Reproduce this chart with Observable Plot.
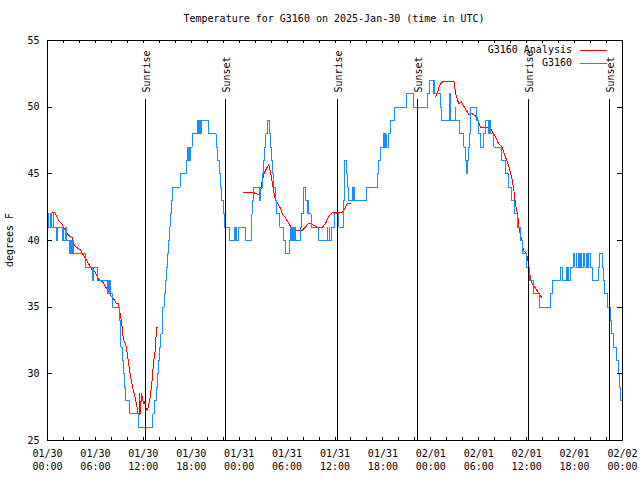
<!DOCTYPE html>
<html><head><meta charset="utf-8">
<script src="https://cdn.jsdelivr.net/npm/d3@7"></script>
<script src="https://cdn.jsdelivr.net/npm/@observablehq/plot@0.6"></script>
<style>body{margin:0;background:#fff} svg{display:block}</style>
</head><body><div id="chart"></div>
<script>
const startMs = Date.UTC(2025, 0, 30);
const titleText = "Temperature for G3160 on 2025-Jan-30 (time in UTC)";
const yLabelText = "degrees F";
const legendLabels = ["G3160 Analysis", "G3160"];
const seriesColors = ["#ff0000", "#1a8cff"];
const yTicks = [25, 30, 35, 40, 45, 50, 55];
const sunriseHours = [12.31, 36.35, 60.27];
const sunsetHours = [22.33, 46.37, 70.41];

// G3160 observations: [hours since 01/30 00:00 UTC, deg F]
const g3160 = [
[0,42],[0.17,41],[0.38,42],[0.55,41],[0.71,42],[0.8,41],[1.1,40],[1.2,41],[1.85,40],[1.95,41],[2.05,40],[2.2,41],[2.35,40],[2.8,39],[2.9,40],[3.0,39],[3.1,40],[3.2,39],[4.76,38],[5.6,37],[5.7,38],[6.2,37],[7.5,36],[7.6,37],[7.75,36],[7.85,37],[7.95,36],[8.1,35],[9.0,34],[9.1,33],[9.2,32],[9.35,31],[9.5,30],[9.65,29],[9.75,28],[10.3,27],[11.4,26],[13.2,27],[13.4,28],[13.6,29],[13.75,30],[13.9,31],[14.05,32],[14.2,33],[14.35,34],[14.45,35],[14.6,36],[14.75,37],[14.9,38],[15.0,39],[15.1,40],[15.25,41],[15.35,42],[15.5,43],[15.65,44],[16.6,45],[17.4,46],[17.5,47],[17.6,46],[17.7,47],[17.8,46],[17.9,47],[18.1,48],[18.75,49],[18.85,48],[19.0,49],[19.1,48],[19.3,49],[20.2,48],[21.1,47],[21.3,46],[21.5,45],[21.7,44],[21.85,43],[22.0,42],[22.2,41],[22.8,40],[23.4,41],[23.5,40],[23.6,41],[23.7,40],[23.9,41],[24.8,40],[25.5,41],[25.6,42],[25.7,43],[25.8,44],[26.6,43],[26.7,44],[26.9,45],[27.0,46],[27.15,47],[27.35,48],[27.5,49],[27.85,48],[27.95,47],[28.05,46],[28.2,45],[28.35,44],[28.5,43],[28.7,42],[29.1,41],[29.55,40],[29.75,39],[30.35,40],[30.45,41],[30.55,40],[30.65,41],[30.8,40],[30.9,41],[31.0,40],[31.65,41],[31.8,42],[32.0,43],[32.1,44],[32.3,43],[32.5,42],[32.55,43],[32.7,42],[33.0,41],[33.9,40],[35.0,41],[35.1,40],[35.25,41],[35.35,40],[35.6,41],[35.9,42],[36.5,41],[37.1,43],[37.25,46],[37.45,45],[37.6,44],[37.7,43],[38.2,44],[38.3,43],[38.4,44],[38.5,43],[40.0,44],[41.3,45],[41.5,46],[41.7,47],[42.1,48],[42.2,47],[42.3,48],[42.4,47],[42.7,48],[43.0,49],[43.4,50],[45.0,51],[45.8,50],[47.6,51],[47.8,52],[48.3,51],[48.4,52],[48.5,51],[49.2,50],[49.35,49],[50.3,51],[50.5,49],[51.05,50],[51.15,49],[51.6,48],[52.15,47],[52.3,46],[52.5,45],[52.65,46],[52.75,47],[52.85,48],[52.95,50],[53.7,49],[53.95,48],[54.2,47],[54.6,48],[54.9,49],[55.2,48],[55.35,49],[55.5,48],[55.9,47],[56.8,46],[57.3,45],[57.7,44],[58.1,43],[58.5,42],[58.8,41],[59.2,40],[59.5,39],[60.0,38],[60.3,37],[60.9,36],[61.6,35],[63.0,36],[63.2,37],[64.2,38],[64.5,37],[65.0,38],[65.1,37],[65.2,38],[65.3,37],[65.5,38],[65.9,39],[66.05,38],[66.2,39],[66.3,38],[66.45,39],[66.6,38],[66.75,39],[66.9,38],[67.1,39],[67.3,38],[67.5,39],[67.6,38],[67.75,39],[68.0,38],[68.3,37],[69.0,38],[69.1,39],[69.5,38],[69.6,37],[69.8,36],[70.1,35],[70.5,34],[70.65,33],[70.9,32],[71.3,31],[71.45,30],[71.6,29],[71.8,28],[72,28]
];

// G3160 analysis, three segments
const analysis1 = [
[0.65,42.1],[0.9,42.1],[1.2,41.75],[1.5,41.4],[1.8,41.25],[2.2,40.8],[2.5,40.5],[2.8,40.3],[3.1,40.2],[3.3,39.7],[3.6,39.5],[4.1,39.3],[4.5,38.9],[4.9,38.5],[5.3,38.1],[5.6,37.8],[6.0,37.6],[6.4,37.1],[6.9,36.9],[7.3,36.5],[7.6,36.2],[7.9,35.9],[8.3,35.6],[8.6,35.3],[8.9,35.25],[9.1,34.5],[9.3,33.75],[9.5,32.6],[9.8,32.2],[10.0,31.5],[10.15,30.8],[10.35,30.0],[10.55,29.3],[10.75,28.75],[10.95,28.25],[11.15,27.75],[11.35,27.0],[11.45,26.75],[11.55,28.5],[11.65,27.0],[11.75,28.5],[11.9,28.2],[12.0,27.8],[12.15,27.9],[12.3,27.5],[12.5,27.25],[12.7,27.75],[12.85,28.25],[13.1,29.5],[13.3,31.0],[13.5,31.75],[13.65,33.5],[13.8,33.5]
];
const analysis2 = [
[24.5,43.6],[25.8,43.6],[26.5,43.4],[26.7,43.4],[26.75,44.0],[26.9,44.5],[27.1,45.0],[27.5,45.5],[27.7,45.7],[27.9,45.2],[28.1,44.5],[28.3,43.75],[28.55,43.0],[28.8,42.8],[29.1,42.5],[29.4,42.0],[29.8,41.7],[30.2,41.3],[30.6,40.9],[31.05,40.75],[31.9,40.75],[32.3,41.0],[32.7,41.3],[33.1,41.2],[33.8,41.0],[34.4,41.0],[34.8,41.25],[35.2,41.8],[35.65,42.1],[36.9,42.1],[37.2,42.4],[37.5,42.75],[37.9,42.75]
];
const analysis3 = [
[48.6,50.8],[48.8,51.0],[49.0,51.5],[49.2,51.75],[49.6,51.95],[50.9,51.9],[51.1,51.0],[51.5,50.25],[51.8,50.4],[52.3,49.9],[52.75,49.45],[53.2,49.5],[53.8,49.25],[54.2,48.5],[54.6,48.5],[55.5,48.4],[56.1,47.75],[56.5,47.25],[56.9,47.0],[57.35,46.25],[57.8,45.5],[58.2,44.5],[58.4,43.75],[58.6,42.75],[58.9,41.75],[59.1,40.75],[59.4,40.0],[59.6,39.25],[60.0,39.0],[60.3,38.0],[60.5,37.0],[60.9,36.6],[61.3,36.25],[61.7,35.9],[61.9,35.7]
];

const toDate = h => new Date(startMs + h * 3600000);
const sunEvents = [
  ...sunriseHours.map(h => ({t: toDate(h), label: "Sunrise"})),
  ...sunsetHours.map(h => ({t: toDate(h), label: "Sunset"}))
];
const minorTicks = d3.utcHour.every(2).range(toDate(0), toDate(72.01));
const fmt = d3.utcFormat("%m/%d\n%H:%M");
const fontFamily = "'DejaVu Sans Mono', monospace";
const crisp = {shapeRendering: "crispEdges"};

const lineOpts = (color, curve) => ({x: d => toDate(d[0]), y: d => d[1], stroke: color, strokeWidth: 1, curve, ...crisp});

const chart = Plot.plot({
  width: 640, height: 480,
  marginLeft: 47, marginRight: 18, marginTop: 40, marginBottom: 40,
  style: {fontFamily, fontSize: "10px", background: "white", color: "black"},
  x: {type: "utc", domain: [toDate(0), toDate(72)]},
  y: {domain: [25, 55]},
  marks: [
    Plot.line(analysis1, lineOpts(seriesColors[0], "linear")),
    Plot.line(analysis2, lineOpts(seriesColors[0], "linear")),
    Plot.line(analysis3, lineOpts(seriesColors[0], "linear")),
    Plot.line(g3160, lineOpts(seriesColors[1], "step-after")),
    Plot.ruleX(sunEvents, {x: "t", y1: 25, y2: 50.55, stroke: "black", strokeWidth: 1, ...crisp}),
    Plot.text(sunEvents, {x: "t", y: 51.1, text: "label", rotate: -90, textAnchor: "start", lineAnchor: "middle", dx: 1, fill: "black"}),
    Plot.tickX(minorTicks, {x: d => d, insetTop: 397, stroke: "black", ...crisp}),
    Plot.tickX(minorTicks, {x: d => d, insetBottom: 397, stroke: "black", ...crisp}),
    Plot.tickY(yTicks, {y: d => d, insetRight: 570, stroke: "black", ...crisp}),
    Plot.tickY(yTicks, {y: d => d, insetLeft: 570, stroke: "black", ...crisp}),
    Plot.axisX({ticks: d3.utcHour.every(6), tickSize: 0, tickPadding: 7, tickFormat: fmt, lineHeight: 1.3, label: null}),
    Plot.axisY({ticks: yTicks, tickSize: 0, tickPadding: 8, tickFormat: d => String(d), label: null}),
    Plot.frame({stroke: "black", ...crisp})
  ]
});

const svg = d3.select(chart);
svg.append("text").attr("x", 334).attr("y", 19).attr("text-anchor", "middle").attr("dominant-baseline", "middle")
  .attr("font-family", fontFamily).attr("font-size", 10).attr("fill", "black").text(titleText);
svg.append("text").attr("transform", "translate(10,240) rotate(-90)").attr("text-anchor", "middle").attr("dominant-baseline", "middle")
  .attr("font-family", fontFamily).attr("font-size", 10).attr("fill", "black").text(yLabelText);
const leg = svg.append("g").attr("font-family", fontFamily).attr("font-size", 10);
legendLabels.forEach((lab, i) => {
  const y = 50 + i * 13;
  leg.append("text").attr("x", 572).attr("y", y).attr("text-anchor", "end").attr("dominant-baseline", "middle").attr("fill", "black").text(lab);
  leg.append("line").attr("x1", 580).attr("x2", 607).attr("y1", y).attr("y2", y).attr("stroke", seriesColors[i]).attr("stroke-width", 1).attr("shape-rendering", "crispEdges");
});
document.getElementById("chart").appendChild(chart);
</script>
</body></html>
